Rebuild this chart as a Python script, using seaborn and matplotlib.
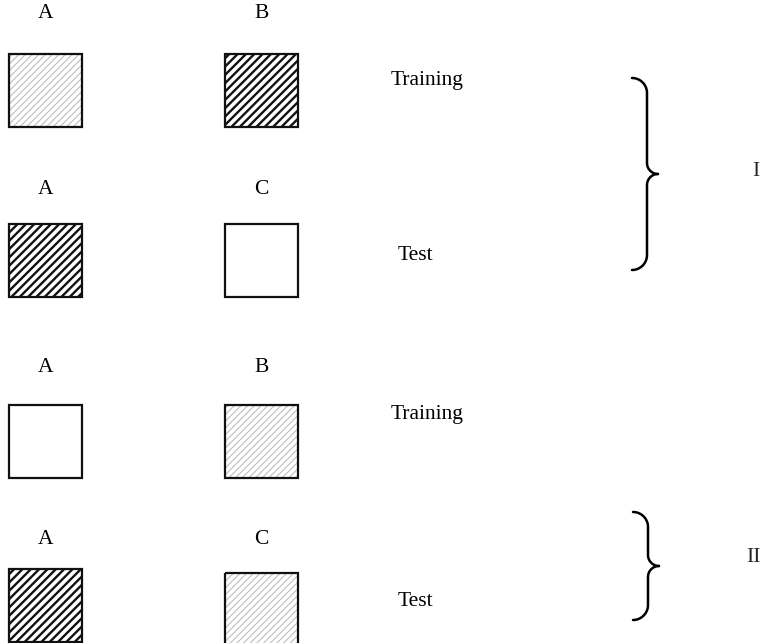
import numpy as np
import matplotlib
matplotlib.use("Agg")
import matplotlib.pyplot as plt
import seaborn as sns

# diagram content
rows = ["Training", "Test", "Training", "Test"]
left_letters = ["A", "A", "A", "A"]
right_letters = ["B", "C", "B", "C"]
left_fill = ["light", "dark", "white", "dark"]
right_fill = ["dark", "white", "light", "light"]
groups = ["I", "II"]

sns.set_theme(style="white")
plt.rcParams["font.family"] = ["Liberation Serif", "DejaVu Serif"]

fig = plt.figure(figsize=(7.6, 6.43), dpi=100)
ax = fig.add_axes([0, 0, 1, 1])
ax.set_xlim(0, 760)
ax.set_ylim(643, 0)
ax.axis("off")

col_x = [9, 225]
sq = 73
row_top = [54, 224, 405, 569]
letter_y = [13, 189, 368, 539]
label_pos = [(391, 81), (398, 256), (391, 415), (398, 601)]
fs = 15.5

styles = {
    "light": dict(hatch="/////", color="#c4c4c4", lw=0.9),
    "dark": dict(hatch="////", color="#111111", lw=1.7),
    "white": dict(hatch=None, color="white", lw=0),
}


def draw_square(x, top, kind):
    st = styles[kind]
    if st["hatch"]:
        with plt.rc_context({"hatch.linewidth": st["lw"],
                             "hatch.color": st["color"]}):
            b = ax.bar(x, sq, width=sq, bottom=top, align="edge",
                       color="white", edgecolor=st["color"], linewidth=0,
                       hatch=st["hatch"])
            for p in b:
                if hasattr(p, "set_hatch_linewidth"):
                    p.set_hatch_linewidth(st["lw"])
    ax.bar(x, sq, width=sq, bottom=top, align="edge", fill=False,
           edgecolor="#111111", linewidth=1.6)


for i, r in enumerate(rows):
    dy_right = 4 if i == 3 else 0
    draw_square(col_x[0], row_top[i], left_fill[i])
    draw_square(col_x[1], row_top[i] + dy_right, right_fill[i])
    ax.text(col_x[0] + sq / 2, letter_y[i], left_letters[i], ha="center",
            va="center", fontsize=fs, color="black")
    ax.text(col_x[1] + sq / 2, letter_y[i], right_letters[i], ha="center",
            va="center", fontsize=fs, color="black")
    ax.text(label_pos[i][0], label_pos[i][1], r, ha="left", va="center",
            fontsize=fs, color="black")


def brace(x0, top, bottom, xv=15, tip=26, r1=15, r2=11):
    mid = (top + bottom) / 2
    xv = x0 + xv
    s = np.linspace(0, np.pi / 2, 30)
    # upper half
    xs = list(x0 + r1 * np.sin(s))
    ys = list(top + r1 - r1 * np.cos(s))
    cx, cy = xv + r2, mid - r2
    xs += list(cx - r2 * np.cos(s))
    ys += list(cy + r2 * np.sin(s))
    upper_x, upper_y = np.array(xs), np.array(ys)
    ax.plot(upper_x, upper_y, color="black", lw=1.8, solid_capstyle="round")
    # lower half mirrored about the tip
    ax.plot(upper_x, 2 * mid - upper_y + (bottom + top - 2 * mid), color="black",
            lw=1.8, solid_capstyle="round")


brace(632, 78, 270)
brace(633, 512, 620)
ax.text(752, 172, groups[0], ha="left", va="center", fontsize=fs)
ax.text(746, 557, groups[1], ha="left", va="center", fontsize=fs)

fig.savefig("out.png", dpi=100, facecolor="white")
